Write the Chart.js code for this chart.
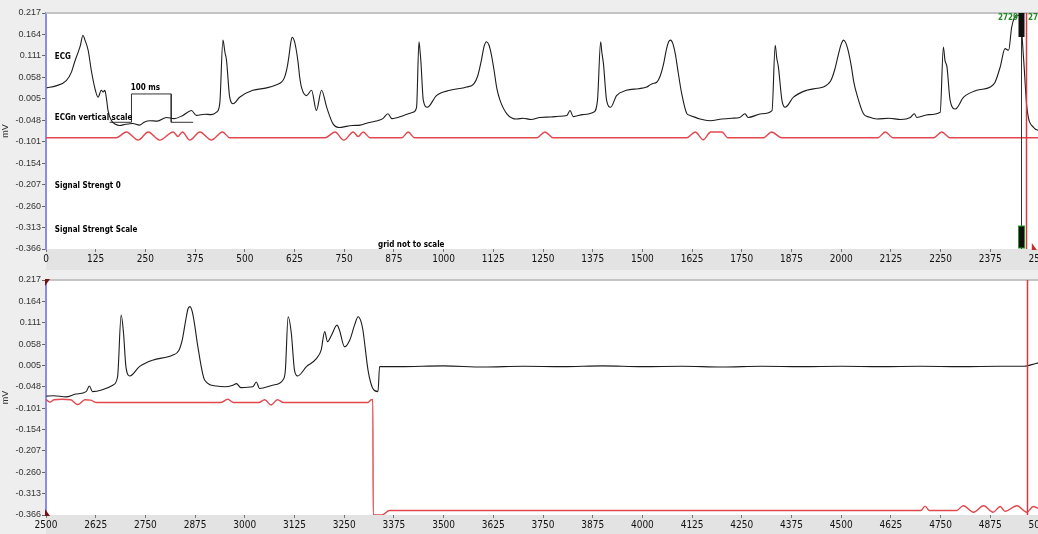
<!DOCTYPE html>
<html>
<head>
<meta charset="utf-8">
<script src="https://cdn.jsdelivr.net/npm/chart.js@4.4.1/dist/chart.umd.min.js"></script>
<style>
  html, body { margin: 0; padding: 0; background: #eeeeee; overflow: hidden; width: 1038px; height: 534px; }
  canvas { position: absolute; left: 0; display: block; }
  #topChart { top: 0; }
  #botChart { top: 270px; }
</style>
</head>
<body>
<canvas id="topChart" width="1070" height="270"></canvas>
<canvas id="botChart" width="1070" height="264"></canvas>
<script>
// Werte (Zeit in ms, Spannung in mV)
const yTicks = [-0.366, -0.313, -0.260, -0.207, -0.154, -0.101, -0.048, 0.005, 0.058, 0.111, 0.164, 0.217];

const ecgTop = [
  [2,0.032],[25,0.037],[51,0.050],[64,0.071],[72,0.096],[80,0.118],[86,0.135],[93,0.162],[98,0.150],[106,0.125],[114,0.075],
  [123,0.031],[131,0.009],[139,0.026],[144,0.022],[148,0.026],[152,0.006],[156,-0.024],[165,-0.049],[175,-0.058],
  [185,-0.061],[200,-0.058],[218,-0.056],[235,-0.060],[248,-0.052],[261,-0.049],[280,-0.050],[303,-0.041],[322,-0.044],
  [344,-0.036],[366,-0.024],[378,-0.036],[400,-0.033],[415,-0.034],[429,-0.028],[437,-0.007],[445,0.150],[450,0.120],
  [454,0.100],[462,0.009],[471,-0.007],[487,0.009],[520,0.026],[555,0.032],[580,0.040],[592,0.046],[600,0.058],[606,0.080],
  [611,0.110],[615,0.140],[619,0.157],[624,0.150],[629,0.128],[634,0.095],[638,0.059],[643,0.032],[655,0.013],[668,0.026],
  [680,-0.024],[693,0.026],[706,-0.016],[722,-0.057],[739,-0.066],[755,-0.063],[772,-0.061],[790,-0.060],[810,-0.054],
  [830,-0.050],[847,-0.044],[860,-0.032],[870,-0.044],[900,-0.036],[923,-0.028],[932,-0.016],[938,0.146],[941,0.120],
  [943,0.096],[949,0.001],[959,-0.016],[982,0.013],[1016,0.026],[1058,0.034],[1076,0.042],[1086,0.062],[1095,0.100],
  [1102,0.135],[1108,0.146],[1114,0.138],[1120,0.115],[1127,0.075],[1134,0.030],[1142,0.001],[1159,-0.032],[1184,-0.045],
  [1200,-0.043],[1220,-0.046],[1242,-0.041],[1270,-0.040],[1290,-0.038],[1310,-0.036],[1318,-0.024],[1326,-0.039],
  [1350,-0.034],[1377,-0.028],[1387,0.001],[1395,0.146],[1398,0.120],[1402,0.092],[1410,0.001],[1420,-0.016],
  [1435,0.013],[1460,0.026],[1490,0.030],[1511,0.034],[1520,0.040],[1526,0.043],[1536,0.046],[1545,0.062],[1553,0.090],
  [1560,0.125],[1566,0.146],[1571,0.150],[1577,0.140],[1583,0.115],[1590,0.070],[1599,0.017],[1612,-0.032],[1620,-0.036],
  [1645,-0.045],[1670,-0.049],[1700,-0.045],[1725,-0.043],[1745,-0.041],[1758,-0.032],[1766,-0.041],[1800,-0.032],
  [1826,-0.024],[1834,0.137],[1838,0.105],[1842,0.084],[1851,0.001],[1859,-0.016],[1880,0.009],[1913,0.026],[1940,0.031],
  [1955,0.034],[1965,0.040],[1974,0.050],[1984,0.078],[1993,0.115],[2000,0.140],[2006,0.150],[2012,0.142],[2018,0.122],
  [2025,0.088],[2032,0.045],[2039,0.017],[2056,-0.032],[2070,-0.040],[2090,-0.045],[2120,-0.043],[2150,-0.046],
  [2174,-0.041],[2184,-0.032],[2190,-0.041],[2220,-0.034],[2249,-0.028],[2257,0.133],[2261,0.100],[2266,0.084],
  [2274,0.001],[2287,-0.020],[2308,0.009],[2341,0.026],[2375,0.034],[2387,0.046],[2400,0.084],[2412,0.129],[2421,0.125],
  [2429,0.183],[2442,0.212],[2450,0.208],[2459,0.100],[2467,-0.016],[2484,-0.066],[2500,-0.074]
];

const signalTop = [
  [0,-0.091],[177,-0.091],[202,-0.077],[232,-0.097],[257,-0.077],[286,-0.097],[320,-0.077],[332,-0.088],[343,-0.077],
  [362,-0.097],[387,-0.077],[416,-0.097],[444,-0.077],[462,-0.091],[702,-0.091],[727,-0.077],[749,-0.097],[773,-0.077],
  [785,-0.088],[798,-0.077],[815,-0.091],[895,-0.091],[911,-0.077],[927,-0.091],[1235,-0.091],[1255,-0.077],
  [1275,-0.091],[1612,-0.091],[1633,-0.077],[1653,-0.096],[1672,-0.077],[1700,-0.077],[1715,-0.091],[1805,-0.091],
  [1825,-0.077],[1850,-0.091],[2092,-0.091],[2111,-0.077],[2130,-0.091],[2233,-0.091],[2253,-0.077],[2273,-0.091],
  [2500,-0.091]
];

const scaleBar = [[160,-0.053],[215,-0.053],[215,0.017],[315,0.017],[315,-0.053],[370,-0.053]];

const ecgBot = [
  [2501,-0.071],[2520,-0.070],[2550,-0.073],[2575,-0.066],[2601,-0.060],[2609,-0.046],[2617,-0.060],[2640,-0.056],
  [2668,-0.044],[2680,-0.023],[2689,0.130],[2695,0.085],[2701,0.002],[2711,-0.021],[2735,0.002],[2768,0.018],
  [2819,0.031],[2834,0.042],[2843,0.070],[2851,0.115],[2857,0.145],[2862,0.151],[2868,0.138],[2874,0.105],[2882,0.051],
  [2899,-0.031],[2928,-0.046],[2950,-0.048],[2970,-0.044],[2979,-0.040],[2990,-0.050],[3020,-0.048],[3029,-0.036],
  [3037,-0.052],[3070,-0.044],[3096,-0.031],[3102,-0.007],[3109,0.126],[3117,0.085],[3125,-0.007],[3133,-0.021],
  [3155,0.002],[3180,0.022],[3192,0.043],[3201,0.089],[3208,0.064],[3218,0.080],[3232,0.105],[3238,0.093],[3251,0.051],
  [3264,0.068],[3276,0.105],[3285,0.126],[3292,0.115],[3297,0.093],[3310,-0.007],[3322,-0.052],[3335,-0.060],
  [3339,0.002],[3390,0.002],[3500,0.004],[3600,0.001],[3700,0.003],[3800,0.002],[3900,0.004],[4000,0.002],[4100,0.003],
  [4200,0.001],[4300,0.003],[4400,0.002],[4500,0.003],[4600,0.002],[4700,0.003],[4800,0.002],[4900,0.003],[4960,0.003],
  [4990,0.010],[5000,0.012]
];

const signalBot = [
  [2500,-0.079],[2510,-0.086],[2520,-0.080],[2540,-0.079],[2562,-0.080],[2580,-0.092],[2598,-0.080],[2612,-0.081],
  [2628,-0.087],[2940,-0.087],[2957,-0.079],[2972,-0.087],[3035,-0.087],[3050,-0.080],[3066,-0.093],[3082,-0.080],
  [3098,-0.087],[3310,-0.087],[3318,-0.080],[3322,-0.080],[3323,-0.366],[3345,-0.366],[3364,-0.355],[4700,-0.355],
  [4711,-0.344],[4722,-0.355],[4790,-0.355],[4807,-0.343],[4833,-0.359],[4858,-0.343],[4882,-0.359],[4900,-0.345],
  [4912,-0.357],[4942,-0.343],[4967,-0.359],[4983,-0.345],[5000,-0.352]
];

const NARROW = '"Liberation Sans Narrow", "DejaVu Sans Condensed", Arial, sans-serif';
const SANS = '"Liberation Sans", Arial, sans-serif';

const toXY = arr => arr.map(p => ({ x: p[0], y: p[1] }));

// Hintergrund, Rahmen, Cursor und Beschriftungen
const panelDeco = {
  id: 'panelDeco',
  beforeDraw(chart) {
    const { ctx, chartArea: a, width, height } = chart;
    ctx.save();
    ctx.fillStyle = '#eeeeee';
    ctx.fillRect(0, 0, width, height);
    ctx.fillStyle = '#e3e3e3';
    ctx.fillRect(a.left, a.bottom, width - a.left, height - a.bottom);
    ctx.fillStyle = '#ffffff';
    ctx.fillRect(a.left, a.top, a.right - a.left, a.bottom - a.top);
    ctx.restore();
  },
  afterDatasetsDraw(chart, args, opts) {
    const { ctx, chartArea: a, scales } = chart;
    const xs = scales.x, ys = scales.y;
    ctx.save();
    ctx.strokeStyle = '#c4c4c4';
    ctx.lineWidth = 2;
    ctx.beginPath();
    ctx.moveTo(a.left, a.top);
    ctx.lineTo(a.right + 40, a.top);
    ctx.stroke();

    (opts.cursors || []).forEach(c => {
      const px = Math.round(xs.getPixelForValue(c.x)) + 0.5;
      ctx.strokeStyle = c.color;
      ctx.lineWidth = c.width;
      ctx.beginPath();
      ctx.moveTo(px, a.top);
      ctx.lineTo(px, a.bottom);
      ctx.stroke();
      if (c.blocks) {
        ctx.fillStyle = '#111';
        ctx.fillRect(px - 3, a.top, 6, 24);
        ctx.fillRect(px - 3, a.bottom - 23, 6, 22);
        ctx.strokeStyle = '#2a9a2a';
        ctx.lineWidth = 1;
        ctx.strokeRect(px - 3, a.bottom - 23, 6, 22);
      }
    });

    (opts.notes || []).forEach(n => {
      ctx.font = n.font || ('bold 8px ' + NARROW);
      ctx.fillStyle = n.color || '#000';
      ctx.textAlign = n.align || 'left';
      ctx.textBaseline = 'middle';
      ctx.fillText(n.text, xs.getPixelForValue(n.x), ys.getPixelForValue(n.y));
    });

    (opts.marks || []).forEach(m => {
      const px = xs.getPixelForValue(m.x), py = ys.getPixelForValue(m.y);
      ctx.fillStyle = m.color;
      ctx.beginPath();
      ctx.moveTo(px - 1, py - m.dir * 1);
      ctx.lineTo(px + 4, py - m.dir * 1);
      ctx.lineTo(px - 1, py + m.dir * 6);
      ctx.closePath();
      ctx.fill();
    });
    ctx.restore();
  }
};

function makeOptions(xMin, xMax, padTop, xHeight, deco) {
  return {
    responsive: false,
    animation: false,
    events: [],
    layout: { padding: { top: padTop, right: 30, left: 0, bottom: 0 } },
    plugins: { legend: { display: false }, tooltip: { enabled: false }, panelDeco: deco },
    scales: {
      x: {
        type: 'linear', min: xMin, max: xMax,
        ticks: { stepSize: 125, autoSkip: false, maxRotation: 0, color: '#111', padding: 1,
                 callback: v => String(v),
                 font: { family: NARROW, size: 10 } },
        grid: { drawOnChartArea: false, tickLength: 3, color: '#777' },
        border: { display: false },
        afterFit(s) { s.height = xHeight; }
      },
      y: {
        min: -0.366, max: 0.217,
        afterBuildTicks(s) { s.ticks = yTicks.map(v => ({ value: v })); },
        ticks: { callback: v => v.toFixed(3), color: '#333', padding: 1, font: { family: SANS, size: 9 } },
        grid: { drawOnChartArea: false, tickLength: 4, color: '#666' },
        border: { color: '#8c8ce6', width: 2 },
        title: { display: true, text: 'mV', color: '#333', font: { family: SANS, size: 9 }, padding: { top: 0, bottom: 2 } },
        afterFit(s) { s.width = 46; }
      }
    }
  };
}

const lineDs = (data, color, width, smooth) => ({
  data: toXY(data),
  borderColor: color,
  borderWidth: width,
  pointRadius: 0,
  fill: false,
  cubicInterpolationMode: smooth ? 'monotone' : 'default',
  tension: 0
});

new Chart(document.getElementById('topChart').getContext('2d'), {
  type: 'line',
  data: {
    datasets: [
      lineDs(signalTop, '#e2474e', 1.4, true),
      lineDs(ecgTop, '#1c1c1c', 1.1, true),
      lineDs(scaleBar, '#333333', 1, false)
    ]
  },
  options: makeOptions(0, 2500, 13, 21, {
    cursors: [
      { x: 2453, color: '#333', width: 1, blocks: true },
      { x: 2466, color: '#d9383f', width: 1.5 }
    ],
    notes: [
      { x: 22, y: 0.108, text: 'ECG' },
      { x: 22, y: -0.041, text: 'ECGn vertical scale' },
      { x: 22, y: -0.210, text: 'Signal Strengt 0' },
      { x: 22, y: -0.320, text: 'Signal Strengt Scale' },
      { x: 835, y: -0.355, text: 'grid not to scale' },
      { x: 213, y: 0.032, text: '100 ms' },
      { x: 2445, y: 0.204, text: '2729', color: '#1f8a1f', align: 'right' },
      { x: 2470, y: 0.204, text: '2735', color: '#1f8a1f' }
    ],
    marks: [{ x: 2482, y: -0.366, color: '#c0302f', dir: -1 }]
  }),
  plugins: [panelDeco]
});

new Chart(document.getElementById('botChart').getContext('2d'), {
  type: 'line',
  data: {
    datasets: [
      lineDs(signalBot, '#e2474e', 1.4, true),
      lineDs(ecgBot, '#1c1c1c', 1.1, true)
    ]
  },
  options: makeOptions(2500, 5000, 10, 19, {
    cursors: [{ x: 4967, color: '#d9383f', width: 1.5 }],
    marks: [
      { x: 2500, y: 0.217, color: '#7a1010', dir: 1 },
      { x: 2500, y: -0.366, color: '#7a1010', dir: -1 }
    ]
  }),
  plugins: [panelDeco]
});
</script>
</body>
</html>
